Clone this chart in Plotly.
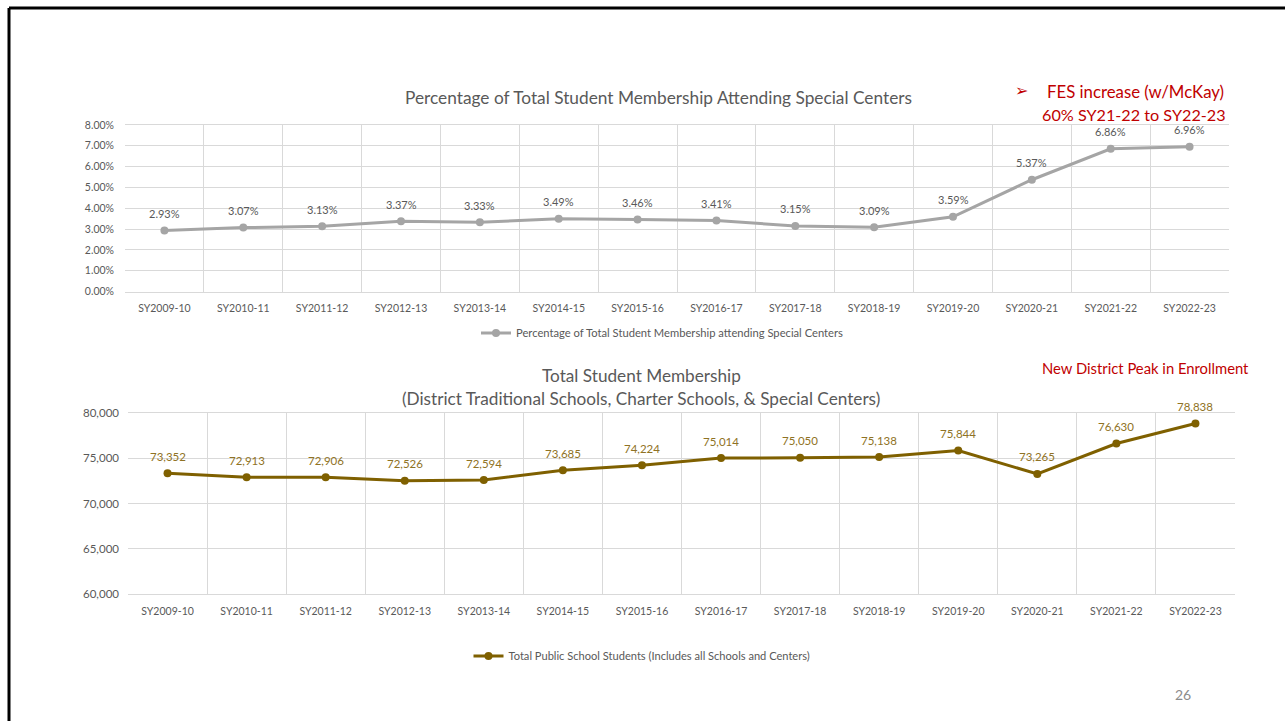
import plotly.graph_objects as go

years = ["SY2009-10", "SY2010-11", "SY2011-12", "SY2012-13", "SY2013-14", "SY2014-15",
         "SY2015-16", "SY2016-17", "SY2017-18", "SY2018-19", "SY2019-20", "SY2020-21",
         "SY2021-22", "SY2022-23"]
pct_special = [2.93, 3.07, 3.13, 3.37, 3.33, 3.49, 3.46, 3.41, 3.15, 3.09, 3.59, 5.37, 6.86, 6.96]
total_students = [73352, 72913, 72906, 72526, 72594, 73685, 74224, 75014, 75050, 75138,
                  75844, 73265, 76630, 78838]

W, H = 1285, 721
FONT = "Lato, 'Open Sans', sans-serif"
GRID = "#d9d9d9"
TXT = "#595959"
RED = "#c00000"

def px(x):
    return x / W

def py(y):
    return 1 - y / H

fig = go.Figure()

fig.add_trace(go.Scatter(
    x=years, y=pct_special, mode="lines+markers",
    name="Percentage of Total Student Membership attending Special Centers",
    line=dict(color="#a5a5a5", width=3), marker=dict(color="#a5a5a5", size=8),
    cliponaxis=False, xaxis="x", yaxis="y", legend="legend"))

fig.add_trace(go.Scatter(
    x=years, y=total_students, mode="lines+markers",
    name="Total Public School Students (Includes all Schools and Centers)",
    line=dict(color="#7f6000", width=3), marker=dict(color="#7f6000", size=8),
    cliponaxis=False, xaxis="x2", yaxis="y2", legend="legend2"))

n = len(years)
common_x = dict(type="category", tickson="boundaries", showgrid=True, gridcolor=GRID,
                gridwidth=1, showline=True, linecolor=GRID, mirror=True, ticks="",
                automargin=False, fixedrange=True, range=[-0.5, n - 0.5], autorange=False,
                ticklabelstandoff=7)

fig.update_layout(
    width=W, height=H, autosize=False,
    margin=dict(l=0, r=0, t=0, b=0, autoexpand=False),
    paper_bgcolor="white", plot_bgcolor="white",
    font=dict(family=FONT, color=TXT),
    xaxis=dict(domain=[px(125), px(1229)], anchor="y",
               tickfont=dict(size=10.5, color=TXT, family=FONT), **common_x),
    yaxis=dict(domain=[py(291.5), py(125)], anchor="x", range=[0, 8], dtick=1,
               tickformat=".2f", ticksuffix="%", showgrid=True, gridcolor=GRID,
               zeroline=False, automargin=False, fixedrange=True, ticklabelstandoff=10,
               tickfont=dict(size=10.5, color=TXT, family=FONT)),
    xaxis2=dict(domain=[px(128), px(1235)], anchor="y2",
                tickfont=dict(size=10.5, color=TXT, family=FONT), **common_x),
    yaxis2=dict(domain=[py(594), py(413)], anchor="x2", range=[60000, 80000], dtick=5000,
                tickformat=",", showgrid=True, gridcolor=GRID, zeroline=False,
                automargin=False, fixedrange=True, ticklabelstandoff=8,
                tickfont=dict(size=11.5, color=TXT, family=FONT)),
    legend=dict(x=px(662), y=py(333), xanchor="center", yanchor="middle",
                orientation="h", font=dict(size=11.2, color=TXT, family=FONT),
                itemwidth=30, bgcolor="rgba(0,0,0,0)"),
    legend2=dict(x=px(642), y=py(656), xanchor="center", yanchor="middle",
                 orientation="h", font=dict(size=11.1, color=TXT, family=FONT),
                 itemwidth=30, bgcolor="rgba(0,0,0,0)"),
    showlegend=True,
)

annotations = [
    dict(text="Percentage of Total Student Membership Attending Special Centers",
         x=px(659), y=py(98), font=dict(size=17.3, color=TXT, family=FONT)),
    dict(text="Total Student Membership", x=px(641), y=py(375),
         font=dict(size=17.2, color=TXT, family=FONT)),
    dict(text="(District Traditional Schools, Charter Schools, & Special Centers)",
         x=px(641), y=py(398), font=dict(size=17.2, color=TXT, family=FONT)),
    dict(text="➢", x=px(1022), y=py(91), font=dict(size=16, color=RED, family="DejaVu Sans")),
    dict(text="FES increase (w/McKay)", x=px(1135), y=py(92),
         font=dict(size=16.8, color=RED, family=FONT)),
    dict(text="60% SY21-22 to SY22-23", x=px(1134), y=py(114),
         font=dict(size=16.2, color=RED, family=FONT)),
    dict(text="New District Peak in Enrollment", x=px(1145), y=py(368),
         font=dict(size=14.8, color=RED, family=FONT)),
    dict(text="26", x=px(1183), y=py(694), font=dict(size=14, color="#8c8c8c", family=FONT)),
]
for a in annotations:
    a.update(xref="paper", yref="paper", showarrow=False, xanchor="center", yanchor="middle")

# data labels placed through the axes from the data arrays
for yr, v in zip(years, pct_special):
    annotations.append(dict(x=yr, y=v, xref="x", yref="y", text=f"{v:.2f}%",
                            showarrow=False, yshift=17, yanchor="middle",
                            font=dict(size=11, color=TXT, family=FONT)))
for yr, v in zip(years, total_students):
    annotations.append(dict(x=yr, y=v, xref="x2", yref="y2", text=f"{v:,}",
                            showarrow=False, yshift=17, yanchor="middle",
                            font=dict(size=11.5, color="#8f7224", family=FONT)))
fig.update_layout(annotations=annotations)

fig.update_layout(shapes=[
    dict(type="line", xref="paper", yref="paper", x0=px(9), x1=1, y0=py(8), y1=py(8),
         line=dict(color="black", width=3)),
    dict(type="line", xref="paper", yref="paper", x0=px(9), x1=px(9), y0=py(8), y1=0,
         line=dict(color="black", width=3)),
])

fig.write_html("out.html", config={"displayModeBar": False},
               post_script="document.body.style.margin='0';document.body.style.overflow='hidden';")
